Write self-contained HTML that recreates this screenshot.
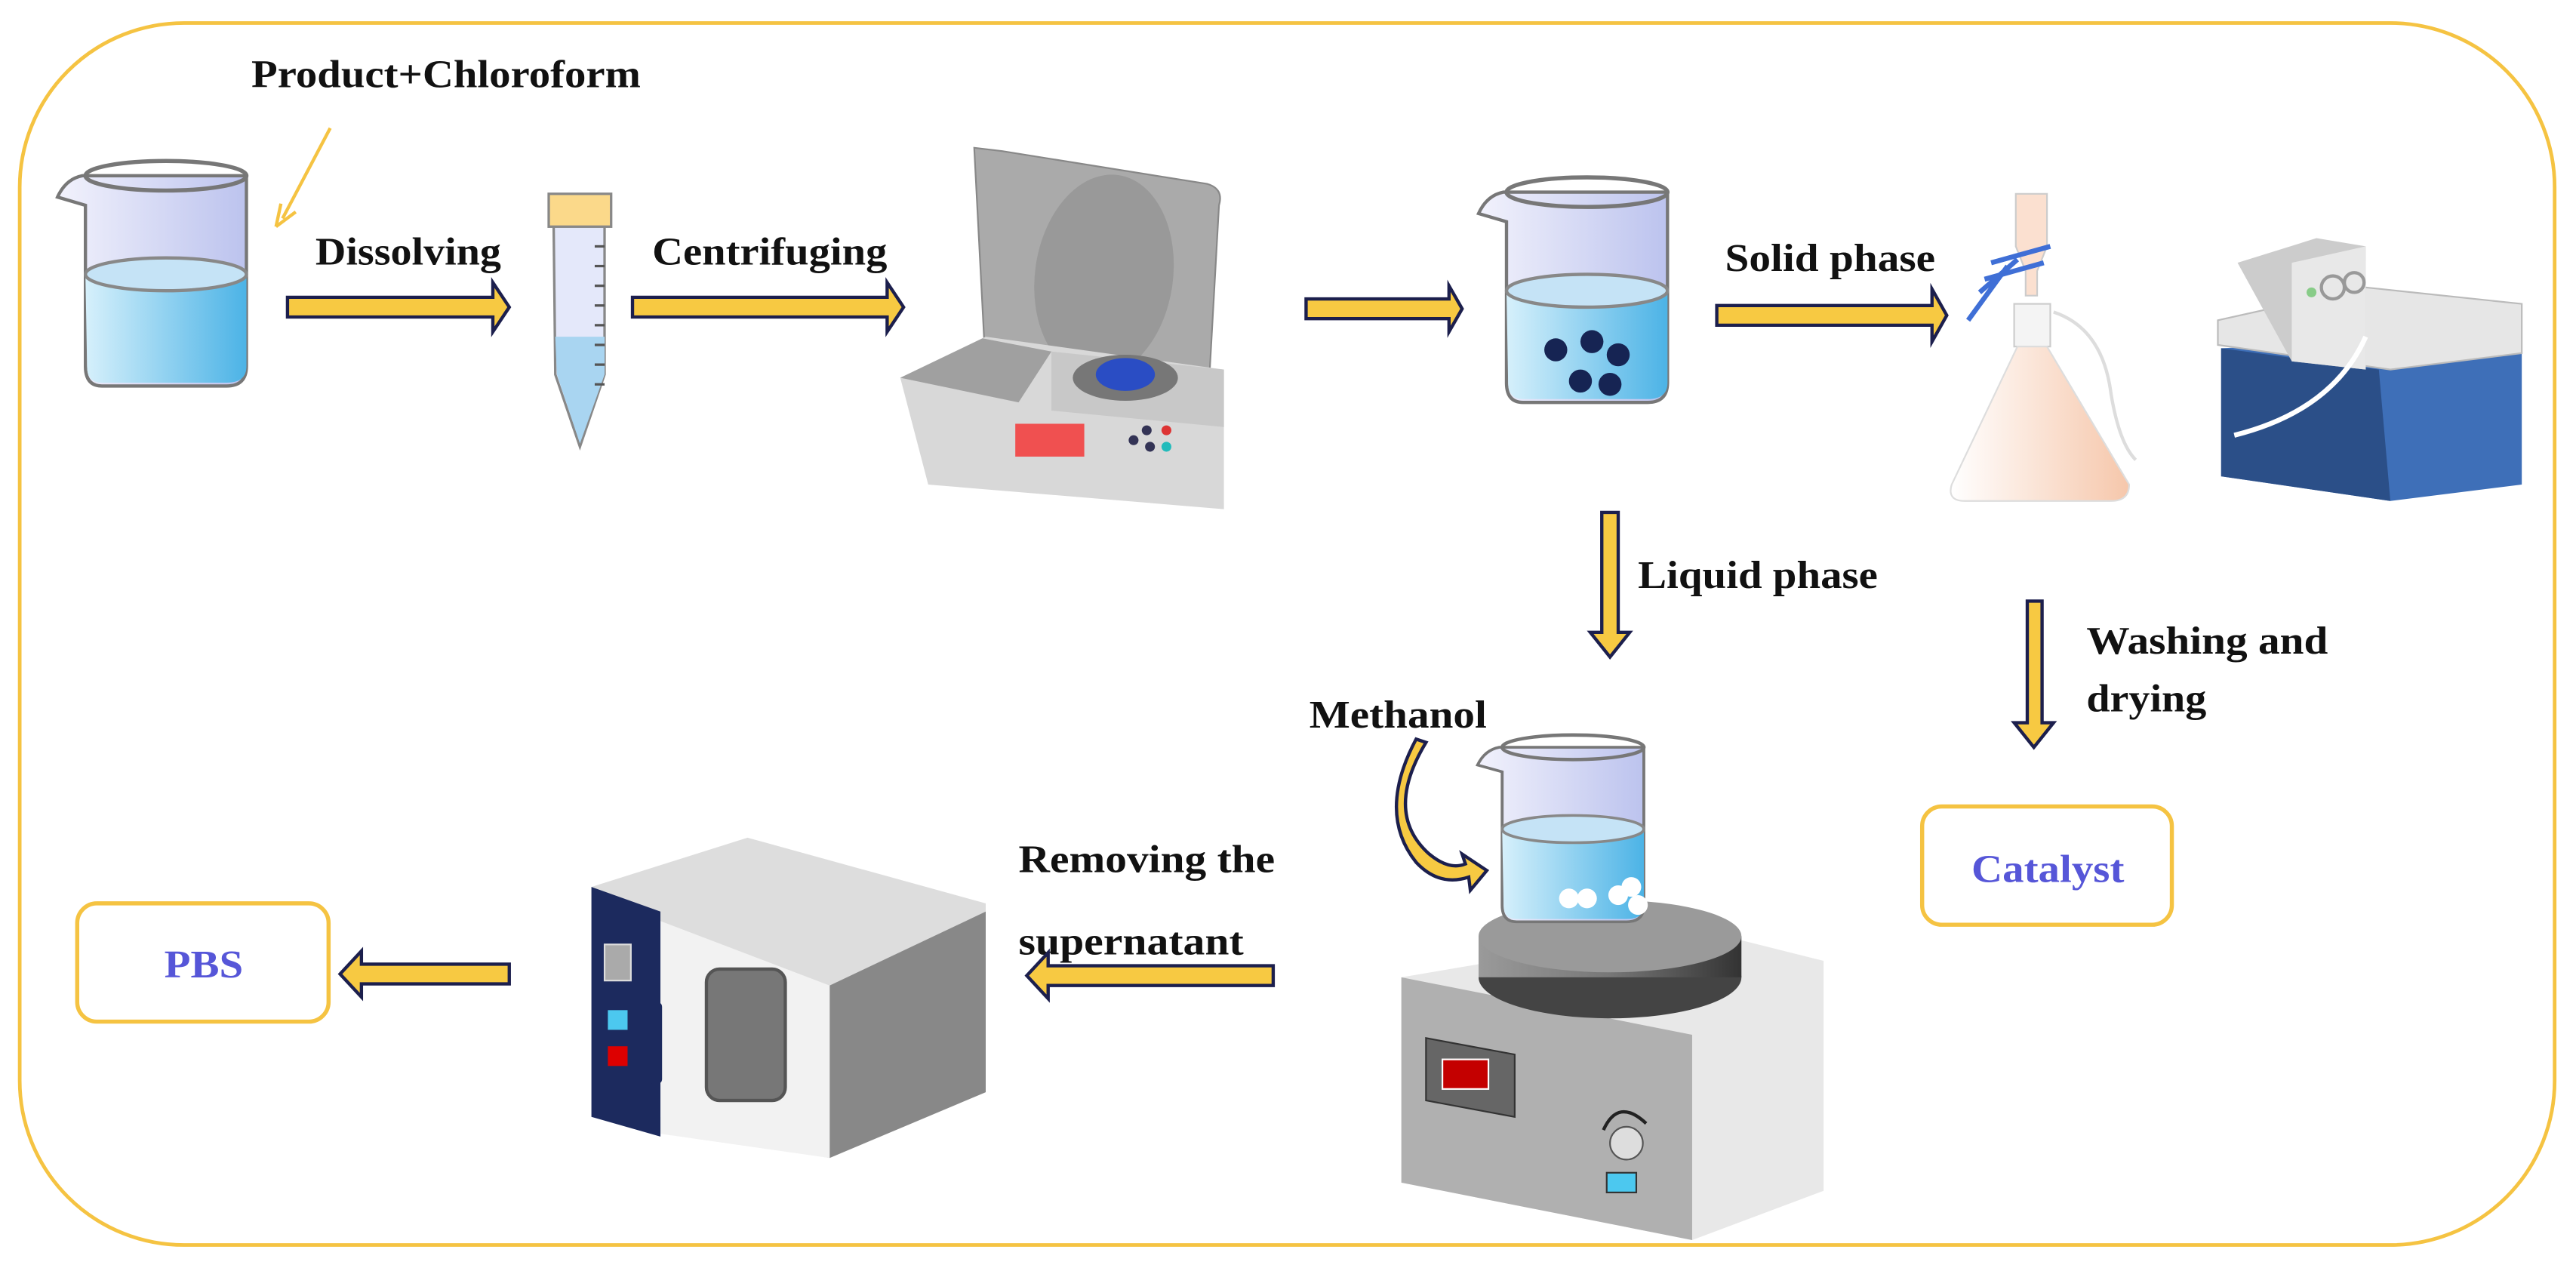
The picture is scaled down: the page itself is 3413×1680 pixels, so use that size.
<!DOCTYPE html>
<html><head><meta charset="utf-8"><style>
html,body{margin:0;padding:0;background:#fff;}
svg{display:block;}
text{font-family:"Liberation Serif",serif;font-weight:bold;}
</style></head><body>
<svg width="3413" height="1680" viewBox="0 0 1568 772" preserveAspectRatio="none" xmlns="http://www.w3.org/2000/svg">
<defs>
<linearGradient id="liq" x1="0" x2="1"><stop offset="0" stop-color="#d6f0fb"/><stop offset="1" stop-color="#4cb3e6"/></linearGradient>
<linearGradient id="gl" x1="0" x2="1"><stop offset="0" stop-color="#f2f2fc"/><stop offset="1" stop-color="#bcc3ee"/></linearGradient>
<linearGradient id="disk" x1="0" x2="1"><stop offset="0" stop-color="#9a9a9a"/><stop offset="0.5" stop-color="#777"/><stop offset="1" stop-color="#333"/></linearGradient>
<linearGradient id="flask" x1="0" x2="1"><stop offset="0" stop-color="#fff"/><stop offset="1" stop-color="#f6c7ab"/></linearGradient>
<g id="beaker">
<path d="M5,25 Q10,14 20,12 L120,12 L120,128 Q120,140 108,140 L32,140 Q22,140 22,128 L22,30 Z" fill="url(#gl)" stroke="#777" stroke-width="2"/>
<path d="M22,72 L120,72 L120,128 Q120,138 108,138 L32,138 Q23,138 23,128 Z" fill="url(#liq)"/>
<ellipse cx="71" cy="72" rx="49" ry="10" fill="#c5e3f6" stroke="#888" stroke-width="2"/>
<ellipse cx="71" cy="12" rx="49" ry="9" fill="none" stroke="#777" stroke-width="2.5"/>
</g>
</defs>
<rect x="12" y="14" width="1543" height="744" rx="100" fill="none" stroke="#f5c342" stroke-width="2.2"/>

<!-- texts -->
<g font-size="24" fill="#111">
<text x="153" y="53" textLength="237" lengthAdjust="spacingAndGlyphs">Product+Chloroform</text>
<text x="192" y="161" textLength="113" lengthAdjust="spacingAndGlyphs">Dissolving</text>
<text x="397" y="161" textLength="143" lengthAdjust="spacingAndGlyphs">Centrifuging</text>
<text x="1050" y="165" textLength="128" lengthAdjust="spacingAndGlyphs">Solid phase</text>
<text x="997" y="358" textLength="146" lengthAdjust="spacingAndGlyphs">Liquid phase</text>
<text x="1270" y="398" textLength="147" lengthAdjust="spacingAndGlyphs">Washing and</text>
<text x="1270" y="433" textLength="73" lengthAdjust="spacingAndGlyphs">drying</text>
<text x="797" y="443" textLength="108" lengthAdjust="spacingAndGlyphs">Methanol</text>
<text x="620" y="531" textLength="156" lengthAdjust="spacingAndGlyphs">Removing the</text>
<text x="620" y="581" textLength="137" lengthAdjust="spacingAndGlyphs">supernatant</text>
</g>
<line x1="201" y1="78" x2="172" y2="133" stroke="#f5c342" stroke-width="2"/>
<path d="M168,138 L171,124 M168,138 L180,129" stroke="#f5c342" stroke-width="2" fill="none"/>

<!-- arrows -->
<g fill="#f7c942" stroke="#1c1f4d" stroke-width="2">
<path d="M175,181 L300,181 L300,172 L310,187 L300,202 L300,193 L175,193 Z"/>
<path d="M385,181 L540,181 L540,172 L550,187 L540,202 L540,193 L385,193 Z"/>
<path d="M795,182 L882,182 L882,174 L890,188 L882,202 L882,194 L795,194 Z"/>
<path d="M1045,186 L1176,186 L1176,176 L1185,192 L1176,208 L1176,198 L1045,198 Z"/>
<path d="M975,312 L985,312 L985,385 L992,385 L980,400 L968,385 L975,385 Z"/>
<path d="M1234,366 L1243,366 L1243,440 L1250,440 L1238,455 L1226,440 L1234,440 Z"/>
<path d="M775,588 L775,600 L638,600 L638,608 L625,594 L638,580 L638,588 Z"/>
<path d="M310,587 L310,599 L220,599 L220,607 L207,593 L220,579 L220,587 Z"/>
<path d="M868,452 Q842,495 870,520 Q882,530 892,526 L890,520 L905,530 L895,542 L894,534 Q876,540 862,525 Q838,495 862,450 Z"/>
</g>

<!-- beaker 1 -->
<use href="#beaker" transform="translate(30,95)"/>
<!-- tube -->
<path d="M337,137 L368,137 L368,228 L353,272 L338,228 Z" fill="#e4e8fa" stroke="#888" stroke-width="1.5"/>
<path d="M338,205 L368,205 L368,228 L353,270 L339,228 Z" fill="#a9d5f1"/>
<g stroke="#555" stroke-width="1.5"><line x1="362" y1="150" x2="368" y2="150"/><line x1="362" y1="162" x2="368" y2="162"/><line x1="362" y1="174" x2="368" y2="174"/><line x1="362" y1="186" x2="368" y2="186"/><line x1="362" y1="198" x2="368" y2="198"/><line x1="362" y1="210" x2="368" y2="210"/><line x1="362" y1="222" x2="368" y2="222"/><line x1="362" y1="234" x2="368" y2="234"/></g>
<rect x="334" y="118" width="38" height="20" fill="#fbd98a" stroke="#888" stroke-width="1.5"/>

<!-- centrifuge -->
<path d="M593,90 L610,92 L735,112 Q745,115 742,125 L735,250 L600,225 Z" fill="#aaa" stroke="#888"/>
<ellipse cx="672" cy="168" rx="42" ry="62" fill="#999" transform="rotate(8 672 168)"/>
<path d="M548,230 L600,205 L745,225 L745,310 L565,295 Z" fill="#d8d8d8"/>
<path d="M548,230 L598,206 L640,214 L620,245 Z" fill="#a0a0a0"/>
<path d="M640,214 L745,225 L745,260 L640,250 Z" fill="#c8c8c8"/>
<ellipse cx="685" cy="230" rx="32" ry="14" fill="#777"/>
<ellipse cx="685" cy="228" rx="18" ry="10" fill="#2a4dc4"/>
<rect x="618" y="258" width="42" height="20" fill="#f05050"/>
<circle cx="690" cy="268" r="3" fill="#335"/><circle cx="698" cy="262" r="3" fill="#335"/><circle cx="700" cy="272" r="3" fill="#335"/><circle cx="710" cy="262" r="3" fill="#d33"/><circle cx="710" cy="272" r="3" fill="#2bb"/>

<!-- beaker 2 -->
<use href="#beaker" transform="translate(895,105)"/>
<g fill="#162453"><circle cx="947" cy="213" r="7"/><circle cx="969" cy="208" r="7"/><circle cx="985" cy="216" r="7"/><circle cx="962" cy="232" r="7"/><circle cx="980" cy="234" r="7"/></g>

<!-- filter flask -->
<path d="M1227,118 L1246,118 L1246,150 L1240,165 L1240,180 L1233,180 L1233,165 L1227,150 Z" fill="#fbe0d0" stroke="#ccc"/>
<rect x="1226" y="185" width="22" height="26" fill="#f4f4f4" stroke="#ccc"/>
<path d="M1228,211 L1246,211 L1296,295 Q1296,305 1285,305 L1196,305 Q1185,305 1188,295 Z" fill="url(#flask)" stroke="#ddd"/>
<path d="M1212,160 L1248,150 M1208,170 L1244,160 M1205,178 L1228,158 M1198,195 L1222,162" stroke="#3f6fd6" stroke-width="3" fill="none"/>
<path d="M1250,190 Q1280,200 1285,240 Q1290,270 1300,280" stroke="#ddd" stroke-width="2" fill="none"/>
<!-- pump -->
<path d="M1352,212 L1535,205 L1535,295 L1455,305 L1352,290 Z" fill="#3e6fb8"/>
<path d="M1352,212 L1448,225 L1455,305 L1352,290 Z" fill="#2b4f88"/>
<path d="M1350,195 L1440,175 L1535,185 L1535,215 L1455,225 L1350,210 Z" fill="#e6e6e6" stroke="#bbb"/>
<path d="M1362,160 L1410,145 L1440,150 L1440,225 L1395,220 Z" fill="#ccc"/>
<path d="M1395,160 L1440,150 L1440,225 L1395,220 Z" fill="#e8e8e8"/>
<circle cx="1420" cy="175" r="7" fill="none" stroke="#999" stroke-width="2"/><circle cx="1433" cy="172" r="6" fill="none" stroke="#999" stroke-width="2"/>
<circle cx="1407" cy="178" r="3" fill="#8c8"/>
<path d="M1440,205 Q1420,250 1360,265" stroke="#fff" stroke-width="3" fill="none"/>

<!-- stirrer -->
<path d="M853,595 L1030,565 L1110,585 L1110,725 L1030,755 L853,720 Z" fill="#e8e8e8"/>
<path d="M853,595 L1030,630 L1030,755 L853,720 Z" fill="#b0b0b0"/>
<ellipse cx="980" cy="595" rx="80" ry="25" fill="#444"/>
<rect x="900" y="570" width="160" height="25" fill="url(#disk)"/>
<ellipse cx="980" cy="570" rx="80" ry="22" fill="#9a9a9a"/>
<use href="#beaker" transform="translate(895,445) scale(0.88,0.83)"/>
<g fill="#fff"><circle cx="955" cy="547" r="6"/><circle cx="966" cy="547" r="6"/><circle cx="985" cy="545" r="6"/><circle cx="993" cy="540" r="6"/><circle cx="997" cy="551" r="6"/></g>
<path d="M868,632 L922,642 L922,680 L868,670 Z" fill="#666" stroke="#333"/>
<rect x="878" y="645" width="28" height="18" fill="#c40000" stroke="#fff"/>
<circle cx="990" cy="696" r="10" fill="#ddd" stroke="#555"/>
<path d="M976,688 Q985,668 1002,684" stroke="#222" stroke-width="2" fill="none"/>
<rect x="978" y="714" width="18" height="12" fill="#4cc8ef" stroke="#333"/>

<!-- oven -->
<path d="M360,540 L455,510 L600,550 L600,590 L505,705 L360,680 Z" fill="#ddd"/>
<path d="M505,600 L600,555 L600,665 L505,705 Z" fill="#888"/>
<path d="M400,560 L505,600 L505,705 L400,690 Z" fill="#f2f2f2"/>
<path d="M360,540 L402,555 L402,692 L360,680 Z" fill="#1c2a5e"/>
<rect x="368" y="575" width="16" height="22" fill="#aaa" stroke="#ddd"/>
<rect x="370" y="615" width="12" height="12" fill="#4cc8ef"/>
<rect x="370" y="637" width="12" height="12" fill="#d00"/>
<rect x="395" y="610" width="8" height="50" fill="#1c2a5e" rx="3"/>
<rect x="430" y="590" width="48" height="80" rx="8" fill="#777" stroke="#555" stroke-width="2"/>

<!-- boxes -->
<rect x="1170" y="491" width="152" height="72" rx="12" fill="#fff" stroke="#f5c342" stroke-width="2.5"/>
<text x="1200" y="537" font-size="24" fill="#5656d8" textLength="93" lengthAdjust="spacingAndGlyphs">Catalyst</text>
<rect x="47" y="550" width="153" height="72" rx="12" fill="#fff" stroke="#f5c342" stroke-width="2.5"/>
<text x="100" y="595" font-size="24" fill="#5656d8" textLength="48" lengthAdjust="spacingAndGlyphs">PBS</text>
</svg>
</body></html>
